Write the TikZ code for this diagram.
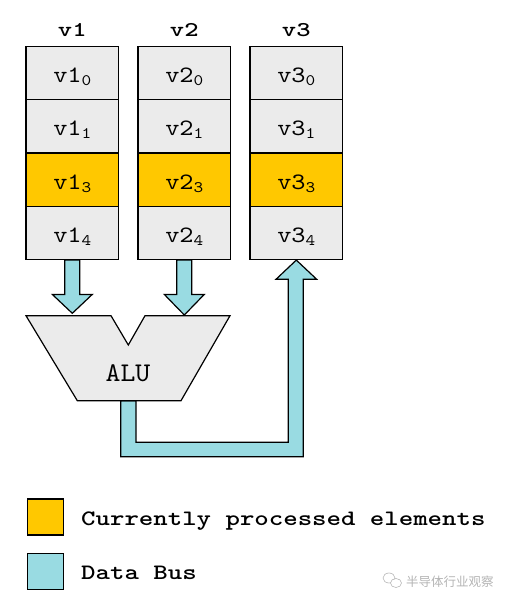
\documentclass[tikz,border=0pt]{standalone}
\usepackage{fontspec}
\newfontfamily\cellfont{lmmono10-regular.otf}[FakeStretch=1.15]
\newfontfamily\alufont{lmmono10-regular.otf}[FakeStretch=1.05]
\newfontfamily\titlefont{lmmonolt10-bold.otf}[FakeStretch=1.3]
\newfontfamily\legfont{lmmonolt10-bold.otf}[FakeStretch=1.25]
\newfontfamily\cjkfont{Noto Sans CJK SC}
\usetikzlibrary{calc}
\definecolor{cellgray}{HTML}{EBEBEB}
\definecolor{curyellow}{HTML}{FFC800}
\definecolor{busblue}{HTML}{99DBE2}
\definecolor{wmgray}{HTML}{B4B4B4}
\tikzset{
  cell/.style={draw=black, line width=1.2pt, fill=cellgray, minimum width=92.7pt, minimum height=53.2pt, inner sep=0pt, text height=22pt, text depth=3.2pt, font=\cellfont\fontsize{23.5}{26}\selectfont},
  curcell/.style={cell, fill=curyellow},
  coltitle/.style={font=\titlefont\fontsize{21}{24}\selectfont},
  busshape/.style={draw=black, line width=1.2pt, fill=busblue, line join=miter},
  alushape/.style={draw=black, line width=1.2pt, fill=cellgray, line join=miter},
  legbox/.style={draw=black, line width=1.2pt, minimum width=36pt, minimum height=36pt, inner sep=0pt},
  legtext/.style={font=\legfont\fontsize{22}{26}\selectfont, anchor=base west, inner sep=0pt},
}
\newcommand{\vsub}[2]{#1\raisebox{-3pt}{\fontsize{16}{18}\selectfont #2}}
\begin{document}
\begin{tikzpicture}[x=1pt,y=-1pt]
\useasboundingbox (0,0) rectangle (507,604);
% column titles
\node[coltitle, anchor=base] (t1) at (72.3,36.7) {v1};
\node[coltitle, anchor=base] (t2) at (184.3,36.7) {v2};
\node[coltitle, anchor=base] (t3) at (296.3,36.7) {v3};
% cells
\foreach \c/\x in {1/72.3,2/184.3,3/296.3}{
  \node[cell]    (c\c0) at (\x,73.3)  {\vsub{v\c}{0}};
  \node[cell]    (c\c1) at (\x,126.5) {\vsub{v\c}{1}};
  \node[curcell] (c\c3) at (\x,179.7) {\vsub{v\c}{3}};
  \node[cell]    (c\c4) at (\x,232.9) {\vsub{v\c}{4}};
}
% ALU
\coordinate (aluTL) at (26,315.7);
\coordinate (aluIL) at (111,315.7);
\coordinate (aluN)  at (128.3,345);
\coordinate (aluIR) at (145,315.7);
\coordinate (aluTR) at (230,315.7);
\coordinate (aluBR) at (181,400.7);
\coordinate (aluBL) at (77.3,400.7);
% bus from ALU to v3 (drawn first so ALU covers its top edge)
\coordinate (busStart) at (128.3,400.7);
\draw[busshape]
  ($(busStart)+(-7.6,0)$) -- (120.7,456.7) -- (303.3,456.7) -- (303.3,279.3)
  -- (316.7,279.3) -- (c34.south) -- (276,279.3) -- (288.3,279.3)
  -- (288.3,442.3) -- (136,442.3) -- ($(busStart)+(7.7,0)$) -- cycle;
\draw[alushape] (aluTL) -- (aluIL) -- (aluN) -- (aluIR) -- (aluTR) -- (aluBR) -- (aluBL) -- cycle;
\node[font=\alufont\fontsize{27}{30}\selectfont, anchor=base] (alu) at (128,381.7) {ALU};
% arrows from v1 and v2 into ALU
\foreach \c/\x/\tip in {1/72.3/313.3,2/184.3/315}{
  \coordinate (tip\c) at (\x,\tip);
  \draw[busshape] ($(c\c4.south)+(-7.5,0)$) -- ($(c\c4.south)+(-7.5,34.3)$)
    -- ($(c\c4.south)+(-20,34.3)$) -- (tip\c) -- ($(c\c4.south)+(20,34.3)$)
    -- ($(c\c4.south)+(7.5,34.3)$) -- ($(c\c4.south)+(7.5,0)$) -- cycle;
}
% legend
\node[legbox, fill=curyellow] (ly) at (45.3,517) {};
\node[legbox, fill=busblue] (lb) at (45.3,571.3) {};
\node[legtext] (lyt) at (81,525) {Currently processed elements};
\node[legtext] (lbt) at (81,579) {Data Bus};
% watermark
\draw[wmgray, line width=0.6pt] (389,578) ellipse (6pt and 5pt);
\draw[wmgray, line width=0.6pt, fill=white] (396,583) ellipse (5.5pt and 4.5pt);
\node[font=\cjkfont\fontsize{12.5}{14}\selectfont, text=wmgray, anchor=west, inner sep=0pt] (wm) at (406,581.5) {半导体行业观察};
\end{tikzpicture}
\end{document}
